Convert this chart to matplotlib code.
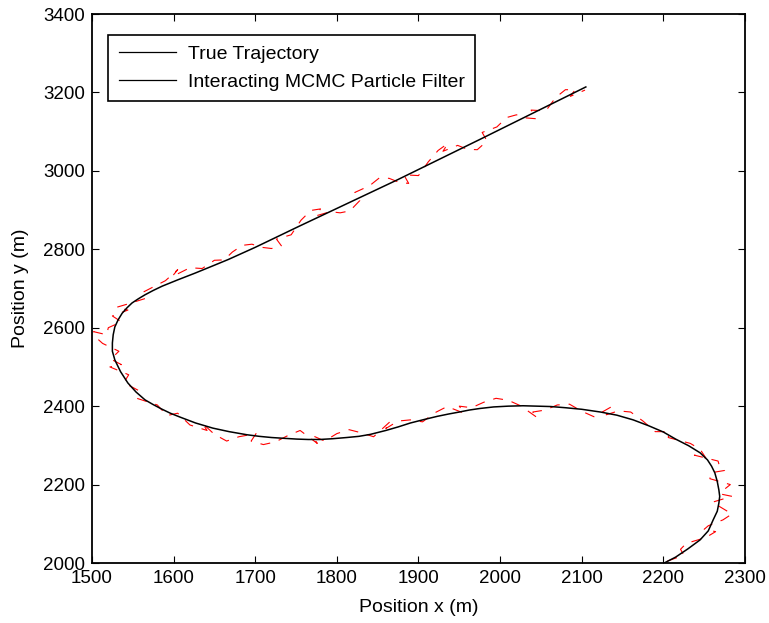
import matplotlib
matplotlib.use("Agg")
import matplotlib.pyplot as plt
from matplotlib.lines import Line2D

plt.rcParams["font.family"] = ["Liberation Sans", "DejaVu Sans"]

# True trajectory waypoints (m)
true_x = [2201, 2215, 2230, 2245, 2255, 2261, 2266, 2268, 2269, 2268, 2266, 2263,
          2259, 2254, 2245, 2231, 2215, 2200, 2182, 2163, 2143, 2123, 2100, 2080,
          2062, 2045, 2028, 2010, 1992, 1975, 1962, 1950, 1937, 1923, 1907, 1890,
          1875, 1860, 1841, 1827, 1812, 1795, 1779, 1765, 1751, 1735, 1720, 1705,
          1690, 1668, 1648, 1627, 1608, 1596, 1585, 1575, 1565, 1554, 1544, 1535,
          1528, 1525, 1525, 1526, 1528, 1532, 1537, 1543, 1549, 1557, 1565, 1575,
          1586, 1605, 1626, 1646, 1667, 1700, 1755, 1874, 1975, 2040, 2105]
true_y = [2000, 2015, 2036, 2059, 2082, 2110, 2132, 2153, 2170, 2186, 2208, 2230,
          2247, 2263, 2281, 2299, 2316, 2334, 2350, 2365, 2377, 2385, 2392, 2396,
          2399, 2400, 2401, 2400, 2398, 2394, 2390, 2385, 2380, 2374, 2366, 2357,
          2347, 2338, 2328, 2323, 2320, 2317, 2315, 2315, 2316, 2318, 2320, 2323,
          2327, 2335, 2344, 2357, 2372, 2382, 2393, 2404, 2416, 2436, 2459, 2488,
          2518, 2540, 2561, 2582, 2602, 2620, 2637, 2651, 2663, 2674, 2684, 2695,
          2706, 2722, 2739, 2756, 2774, 2805, 2860, 2977, 3080, 3147, 3214]

# Interacting MCMC particle filter estimate (m)
est_x = [2205, 2225, 2221, 2228, 2252, 2264, 2250, 2255, 2273, 2284, 2272, 2260,
         2284, 2270, 2273, 2282, 2257, 2258, 2275, 2269, 2267, 2238, 2252, 2245,
         2233, 2206, 2207,
         2190, 2175, 2160, 2145, 2130, 2136, 2115, 2100, 2085, 2070, 2055, 2040,
         2046, 2025, 2010, 1995, 1980, 1965, 1950, 1956, 1935, 1920, 1905, 1890,
         1875, 1860, 1866, 1845, 1830, 1815, 1800, 1785, 1770, 1776, 1755, 1740,
         1725, 1710, 1695, 1701, 1680, 1665, 1650, 1635, 1641, 1620, 1605, 1592,
         1580,
         1555, 1557, 1539, 1545, 1522, 1536, 1523, 1533, 1513, 1505, 1502, 1518,
         1520, 1536, 1525, 1544, 1530, 1543, 1566, 1562, 1590, 1605, 1598, 1620,
         1635, 1650, 1662,
         1672, 1684, 1696, 1708, 1720, 1732, 1726, 1744, 1756, 1768, 1780, 1774,
         1792, 1804, 1816, 1828, 1822, 1840, 1852, 1864, 1876, 1888, 1882, 1900,
         1912, 1924, 1936, 1930, 1948, 1960, 1972, 1984, 1978, 1996, 2008, 2020,
         2032, 2044, 2038, 2056, 2068, 2080, 2092, 2086, 2104]
est_y = [2005, 2020, 2035, 2050, 2065, 2080, 2086, 2095, 2110, 2125, 2140, 2155,
         2170, 2176, 2185, 2200, 2215, 2230, 2236, 2245, 2260, 2275, 2268, 2290,
         2305, 2320, 2335,
         2335, 2362, 2385, 2388, 2378, 2398, 2373, 2387, 2405, 2403, 2390, 2385,
         2370, 2401, 2415, 2420, 2410, 2396, 2400, 2382, 2399, 2383, 2360, 2365,
         2362, 2343, 2362, 2322, 2332, 2340, 2330, 2311, 2325, 2305, 2338, 2325,
         2309, 2302, 2311, 2330, 2322, 2311, 2328, 2357, 2338, 2352, 2382, 2376,
         2403,
         2420, 2440, 2460, 2480, 2500, 2506, 2520, 2540, 2560, 2575, 2590, 2582,
         2600, 2615, 2630, 2645, 2652, 2660, 2675, 2690, 2720, 2748, 2730, 2753,
         2751, 2772, 2773,
         2793, 2810, 2813, 2805, 2802, 2809, 2826, 2837, 2874, 2899, 2903, 2885,
         2896, 2893, 2898, 2924, 2945, 2962, 2982, 2981, 2971, 2968, 2990, 2988,
         3023, 3052, 3070, 3050, 3065, 3055, 3054, 3076, 3098, 3112, 3136, 3143,
         3135, 3133, 3155, 3153, 3187, 3207, 3207, 3190, 3206]

x_ticks = [1500, 1600, 1700, 1800, 1900, 2000, 2100, 2200, 2300]
y_ticks = [2000, 2200, 2400, 2600, 2800, 3000, 3200, 3400]


def main():
    fig = plt.figure(figsize=(7.69, 6.23), dpi=100)
    ax = fig.add_axes([0.1196, 0.0963, 0.8492, 0.8812])

    ax.plot(est_x, est_y, color="red", linewidth=0.8, dashes=(9, 8))
    ax.plot(true_x, true_y, color="black", linewidth=1.1)

    ax.set_xlim(1500, 2300)
    ax.set_ylim(2000, 3400)
    ax.set_xticks(x_ticks)
    ax.set_yticks(y_ticks)
    ax.tick_params(direction="in", length=5, width=0.8, labelsize=13.5,
                   top=True, right=True, pad=5)
    for spine in ax.spines.values():
        spine.set_linewidth(1.3)

    ax.set_xlabel("Position x (m)", fontsize=14, labelpad=9)
    ax.set_ylabel("Position y (m)", fontsize=14, labelpad=10)

    handles = [Line2D([], [], color="black", linewidth=0.9),
               Line2D([], [], color="black", linewidth=0.9)]
    leg = ax.legend(handles, ["True Trajectory", "Interacting MCMC Particle Filter"],
                    loc="upper left", bbox_to_anchor=(0.0245, 0.962),
                    borderaxespad=0, fontsize=14, fancybox=False, framealpha=1,
                    edgecolor="black", handlelength=2.95, handletextpad=0.6,
                    labelspacing=0.5, borderpad=0.55)
    leg.get_frame().set_linewidth(1.2)

    fig.savefig("out.png", dpi=100)
    plt.close(fig)


if __name__ == "__main__":
    main()
